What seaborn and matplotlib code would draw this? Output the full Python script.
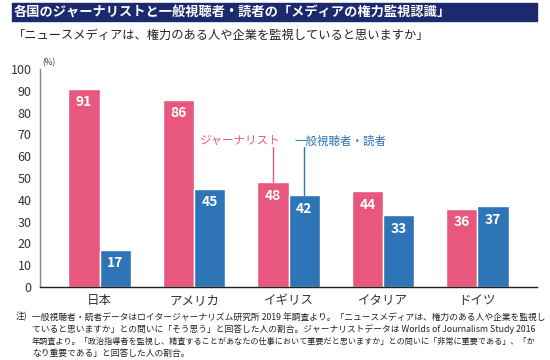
import pandas as pd
import numpy as np
import seaborn as sns
import matplotlib.pyplot as plt
from matplotlib.patches import Rectangle

# data
countries = ["日本", "アメリカ", "イギリス", "イタリア", "ドイツ"]
journalists = [91, 86, 48, 44, 36]
public = [17, 45, 42, 33, 37]
groups = ["ジャーナリスト", "一般視聴者・読者"]

pink = "#E8587E"
blue = "#2E75B8"
navy = "#1B2A6E"

df = pd.DataFrame({
    "country": countries * 2,
    "value": journalists + public,
    "group": [groups[0]] * len(countries) + [groups[1]] * len(countries),
})

sns.set_theme(style="white")
plt.rcParams["font.family"] = ["Noto Sans CJK JP", "DejaVu Sans"]

fig = plt.figure(figsize=(5.5, 3.6), dpi=100)
ax = fig.add_axes([40 / 550, 1 - 287 / 360, 497 / 550, 218 / 360])

sns.barplot(data=df, x="country", y="value", hue="group", order=countries,
            hue_order=groups, palette=[pink, blue], width=0.66, gap=0,
            saturation=1, legend=False, ax=ax)

# value labels inside the bars
for cont in ax.containers:
    for bar in cont:
        h = bar.get_height()
        ax.text(bar.get_x() + bar.get_width() / 2, h - 3, f"{h:.0f}",
                ha="center", va="top", color="white", fontsize=10,
                fontweight="bold", family=["Noto Sans CJK JP"])

ax.set_ylim(0, 100)
ax.set_xlim(-0.63, 4.63)
ax.set_yticks(range(0, 101, 10))
ax.set_xlabel("")
ax.set_ylabel("")
ax.tick_params(axis="y", length=0, labelsize=9, pad=6, colors="#333333")
ax.tick_params(axis="x", length=0, labelsize=9, pad=5, colors="#333333")
for s in ["top", "right"]:
    ax.spines[s].set_visible(False)
ax.spines["left"].set_color("#888888")
ax.spines["left"].set_linewidth(1.0)
ax.spines["bottom"].set_color("#222222")
ax.spines["bottom"].set_linewidth(1.0)
ax.text(0.004, 101, "(%)", fontsize=6, color="#333333", ha="left", va="bottom",
        transform=ax.get_yaxis_transform())

# series labels with leader lines to the UK bars
ukj = ax.containers[0][2]
ukp = ax.containers[1][2]
xj = ukj.get_x() + ukj.get_width() / 2
xp = ukp.get_x() + ukp.get_width() / 2
ax.plot([xj, xj], [journalists[2], 64.3], color=pink, lw=1)
ax.plot([xp, xp], [public[2], 64.3], color=blue, lw=1)
ax.text(xj + 0.08, 67, groups[0], color=pink, fontsize=8.3, ha="right", va="center")
ax.text(xp - 0.1, 67, groups[1], color=blue, fontsize=8.3, ha="left", va="center")

# title bar
fig.patches.append(Rectangle((12 / 550, 1 - 21 / 360), 525 / 550, 18 / 360,
                             transform=fig.transFigure, color=navy, zorder=0))
fig.text(14 / 550, 1 - 12 / 360, "各国のジャーナリストと一般視聴者・読者の「メディアの権力監視認識」",
         color="white", fontsize=9.5, fontweight="bold", va="center", ha="left")
fig.text(12 / 550, 1 - 35 / 360, "「ニュースメディアは、権力のある人や企業を監視していると思いますか」",
         color="#222222", fontsize=8.8, va="center", ha="left")

# footnote, one line at a time so each fits the width
note_lines = [
    "一般視聴者・読者データはロイタージャーナリズム研究所 2019 年調査より。「ニュースメディアは、権力のある人や企業を監視し",
    "ていると思いますか」との問いに「そう思う」と回答した人の割合。ジャーナリストデータは Worlds of Journalism Study 2016",
    "年調査より。「政治指導者を監視し、精査することがあなたの仕事において重要だと思いますか」との問いに「非常に重要である」、「か",
    "なり重要である」と回答した人の割合。",
]
note_sizes = [6.3, 6.3, 5.85, 6.3]
note_y = [317, 329, 341, 353]
fig.text(16 / 550, 1 - note_y[0] / 360, "注)", fontsize=6.3, color="#222222", va="center")
for line, size, y in zip(note_lines, note_sizes, note_y):
    fig.text(32 / 550, 1 - y / 360, line, fontsize=size, color="#222222", va="center")

plt.savefig("out.png", dpi=100)
